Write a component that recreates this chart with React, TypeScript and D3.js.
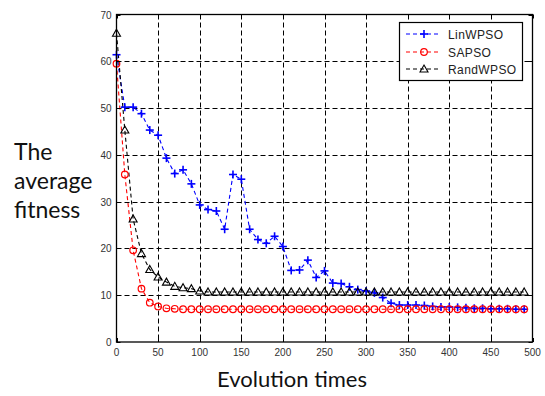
import React from "react";
import * as d3 from "d3";

const iterations = [0,10,20,30,40,50,60,70,80,90,100,110,120,130,140,150,160,170,180,190,200,210,220,230,240,250,260,270,280,290,300,310,320,330,340,350,360,370,380,390,400,410,420,430,440,450,460,470,480,490];

const linWPSO = [61.4,50.2,50.2,48.8,45.3,44.2,39.3,36.0,36.8,33.8,29.3,28.3,28.0,24.1,35.8,34.8,24.1,21.9,21.1,22.6,20.4,15.3,15.4,17.5,13.8,15.2,12.6,12.5,11.8,11.2,10.9,10.5,9.5,8.3,7.9,7.9,7.9,7.8,7.6,7.5,7.5,7.4,7.3,7.2,7.2,7.1,7.1,7.1,7.0,7.0];

const saPSO = [59.5,35.8,19.6,11.4,8.4,7.6,7.2,7.1,7.0,7.0,7.0,7.0,7.0,7.0,7.0,7.0,7.0,7.0,7.0,7.0,7.0,7.0,7.0,7.0,7.0,7.0,7.0,7.0,7.0,7.0,7.0,7.0,7.0,7.0,7.0,7.0,7.0,7.0,7.0,7.0,7.0,7.0,7.0,7.0,7.0,7.0,7.0,7.0,7.0,7.0];

const randWPSO = [66.0,45.3,26.3,18.9,15.5,13.9,12.8,11.9,11.6,11.4,10.9,10.7,10.7,10.7,10.7,10.7,10.7,10.7,10.7,10.7,10.7,10.7,10.7,10.7,10.7,10.7,10.7,10.7,10.7,10.7,10.7,10.7,10.7,10.7,10.7,10.7,10.7,10.7,10.7,10.7,10.7,10.7,10.7,10.7,10.7,10.7,10.7,10.7,10.7,10.7];

const xTicks = [0,50,100,150,200,250,300,350,400,450,500];
const yTicks = [0,10,20,30,40,50,60,70];
const seriesNames = ["LinWPSO", "SAPSO", "RandWPSO"];
const yLabelLines = ["The", "average", "fitness"];
const xLabel = "Evolution times";

const W = 545, H = 396;
const L = 116.5, R = 532.5, T = 14.5, B = 342;

function Marker({ kind, x, y, color }: { kind: string; x: number; y: number; color: string }) {
  if (kind === "plus") {
    return (
      <g stroke={color} strokeWidth={1.6}>
        <line x1={x - 4} x2={x + 4} y1={y} y2={y} />
        <line x1={x} x2={x} y1={y - 4} y2={y + 4} />
      </g>
    );
  }
  if (kind === "circle") {
    return <circle cx={x} cy={y} r={3.3} fill="none" stroke={color} strokeWidth={1.2} />;
  }
  return (
    <path d={`M${x},${y - 4}L${x + 4},${y + 3}L${x - 4},${y + 3}Z`} fill="none" stroke={color} strokeWidth={1.1} />
  );
}

export default function App() {
  const x = d3.scaleLinear().domain([0, 500]).range([L, R]);
  const y = d3.scaleLinear().domain([0, 70]).range([B, T]);

  const series = [
    { name: seriesNames[0], values: linWPSO, color: "#0000ff", kind: "plus" },
    { name: seriesNames[1], values: saPSO, color: "#ff0000", kind: "circle" },
    { name: seriesNames[2], values: randWPSO, color: "#000000", kind: "tri" },
  ];

  const line = d3
    .line<number>()
    .x((_, i) => x(iterations[i]))
    .y((d) => y(d));

  const legendX = 399.5, legendY = 22.5;
  const rowY = [34, 52, 69];

  return (
    <svg width={W} height={H} style={{ position: "absolute", left: 0, top: 0, background: "#fff" }}>
      <rect x={0} y={0} width={W} height={H} fill="#fff" />
      {/* grid */}
      <g stroke="#000" strokeWidth={1} strokeDasharray="5,3">
        {xTicks.slice(1, -1).map((t) => (
          <line key={"gx" + t} x1={Math.round(x(t)) + 0.5} x2={Math.round(x(t)) + 0.5} y1={T} y2={B} />
        ))}
        {yTicks.slice(1, -1).map((t) => (
          <line key={"gy" + t} x1={L} x2={R} y1={Math.round(y(t)) + 0.5} y2={Math.round(y(t)) + 0.5} />
        ))}
      </g>
      {/* series lines */}
      {series.map((s) => (
        <path key={s.name} d={line(s.values) || ""} fill="none" stroke={s.color} strokeWidth={1.1} strokeDasharray="4,3" />
      ))}
      {series.map((s) => (
        <g key={s.name + "m"}>
          {s.values.map((v, i) => (
            <Marker key={i} kind={s.kind} x={x(iterations[i])} y={y(v)} color={s.color} />
          ))}
        </g>
      ))}
      {/* frame */}
      <rect x={L} y={T} width={R - L} height={B - T} fill="none" stroke="#000" strokeWidth={1.3} />
      {/* tick marks */}
      <g stroke="#000" strokeWidth={1}>
        {xTicks.map((t) => (
          <g key={"tx" + t}>
            <line x1={Math.round(x(t)) + 0.5} x2={Math.round(x(t)) + 0.5} y1={B} y2={B - 4} />
            <line x1={Math.round(x(t)) + 0.5} x2={Math.round(x(t)) + 0.5} y1={T} y2={T + 4} />
          </g>
        ))}
        {yTicks.map((t) => (
          <g key={"ty" + t}>
            <line x1={L} x2={L + 4} y1={Math.round(y(t)) + 0.5} y2={Math.round(y(t)) + 0.5} />
            <line x1={R} x2={R - 4} y1={Math.round(y(t)) + 0.5} y2={Math.round(y(t)) + 0.5} />
          </g>
        ))}
      </g>
      {/* tick labels */}
      <g fontFamily="Liberation Sans, Arial, sans-serif" fontSize={10} fill="#333">
        {xTicks.map((t) => (
          <text key={"lx" + t} x={x(t)} y={B + 14} textAnchor="middle">{t}</text>
        ))}
        {yTicks.map((t) => (
          <text key={"ly" + t} x={L - 5} y={y(t) + 4} textAnchor="end">{t}</text>
        ))}
      </g>
      {/* legend */}
      <rect x={legendX} y={legendY} width={123} height={58} fill="#fff" stroke="#000" strokeWidth={1.2} />
      {series.map((s, i) => (
        <g key={s.name + "leg"}>
          <line x1={406} x2={441} y1={rowY[i]} y2={rowY[i]} stroke={s.color} strokeWidth={1.1} strokeDasharray="4,3" />
          <Marker kind={s.kind} x={424} y={rowY[i]} color={s.color} />
          <text x={448} y={rowY[i] + 4.5} fontFamily="Liberation Sans, Arial, sans-serif" fontSize={12} letterSpacing={0.4} fill="#222">{s.name}</text>
        </g>
      ))}
      {/* axis titles */}
      <g fontFamily="Lato, sans-serif" fill="#111">
        {yLabelLines.map((t, i) => (
          <text key={t} x={14} y={160 + i * 29} fontSize={23}>{t}</text>
        ))}
        <text x={292} y={387} textAnchor="middle" fontSize={22}>{xLabel}</text>
      </g>
    </svg>
  );
}
